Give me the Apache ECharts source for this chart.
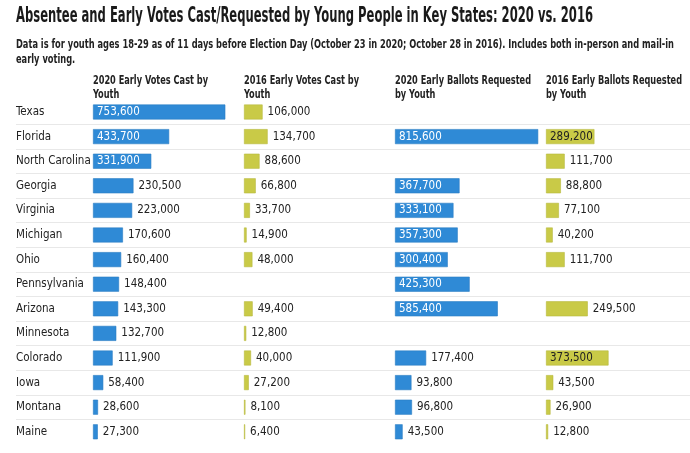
<!DOCTYPE html>
<html>
<head>
<meta charset="utf-8">
<script src="https://cdn.jsdelivr.net/npm/echarts@6/dist/echarts.min.js"></script>
<style>html,body{margin:0;padding:0;background:#fff}#c{width:690px;height:453px}</style>
</head>
<body>
<div id="c"></div>
<script>
const titleText = 'Absentee and Early Votes Cast/Requested by Young People in Key States: 2020 vs. 2016';
const subtitleLines = [
  'Data is for youth ages 18-29 as of 11 days before Election Day (October 23 in 2020; October 28 in 2016). Includes both in-person and mail-in',
  'early voting.'
];
const states = ['Texas','Florida','North Carolina','Georgia','Virginia','Michigan','Ohio','Pennsylvania','Arizona','Minnesota','Colorado','Iowa','Montana','Maine'];
const headers = [
  ['2020 Early Votes Cast by','Youth'],
  ['2016 Early Votes Cast by','Youth'],
  ['2020 Early Ballots Requested','by Youth'],
  ['2016 Early Ballots Requested','by Youth']
];
const votes2020 = [753600,433700,331900,230500,223000,170600,160400,148400,143300,132700,111900,58400,28600,27300];
const votes2016 = [106000,134700,88600,66800,33700,14900,48000,null,49400,12800,40000,27200,8100,6400];
const requested2020 = [null,815600,null,367700,333100,357300,300400,425300,585400,null,177400,93800,96800,43500];
const requested2016 = [null,289200,111700,88800,77100,40200,111700,null,249500,null,373500,43500,26900,12800];

const columns = [votes2020, votes2016, requested2020, requested2016];
const colColors = ['#2f8ad6','#c9ca47','#2f8ad6','#c9ca47'];
const colBorders = ['#2a7cc2','#b7b83e','#2a7cc2','#b7b83e'];
const insideText = ['#ffffff','#222222','#ffffff','#222222'];
const colLeft = [93, 244, 395, 546];
const colW = 151;
const xMax = 860000;
const rowH = 24.6;
const gridTop = 99.7;
const threshold = 260000;

const FONT = "'DejaVu Sans Condensed','Liberation Sans Narrow',sans-serif";
const ctx = document.createElement('canvas').getContext('2d');
function fitScale(text, font, target) {
  ctx.font = font;
  const w = ctx.measureText(text).width;
  return w > 0 ? target / w : 1;
}
const fmt = v => v.toLocaleString('en-US');

const titleFont = "bold 21px " + FONT;
const subFont = "bold 12px " + FONT;
const headFont = "bold 13px " + FONT;
const titleScale = fitScale(titleText, titleFont, 577);
const subScale = fitScale(subtitleLines[0], subFont, 658);
const headScale = fitScale(headers[3][0], headFont, 136);

const grids = [], xAxes = [], yAxes = [], series = [];
columns.forEach((vals, i) => {
  grids.push({left: colLeft[i], top: gridTop, width: colW, height: rowH * states.length});
  xAxes.push({type: 'value', gridIndex: i, min: 0, max: xMax, show: false});
  yAxes.push({
    type: 'category', gridIndex: i, data: states, inverse: true,
    axisLine: {show: false}, axisTick: {show: false}, splitLine: {show: false},
    axisLabel: i === 0 ? {show: true, align: 'left', margin: colLeft[0] - 16, color: '#222',
      fontSize: 11.5, fontFamily: FONT, overflow: 'none', width: 90} : {show: false}
  });
  series.push({
    type: 'bar', xAxisIndex: i, yAxisIndex: i, barWidth: 15, silent: true,
    itemStyle: {color: colColors[i], borderColor: colBorders[i], borderWidth: 0.6},
    data: vals.map(v => v == null ? null : {
      value: v,
      label: v > threshold
        ? {show: true, position: 'insideLeft', distance: 4, color: insideText[i]}
        : {show: true, position: 'right', distance: 5, color: '#222'}
    }),
    label: {show: true, fontSize: 11.5, fontFamily: FONT, formatter: p => fmt(p.value)}
  });
});
// separator grid
grids.push({left: 16, right: 0, top: gridTop + rowH, height: rowH * (states.length - 2)});
xAxes.push({type: 'value', gridIndex: 4, min: 0, max: 1, show: false});
yAxes.push({type: 'value', gridIndex: 4, min: 0, max: states.length - 2, interval: 1,
  axisLine: {show: false}, axisTick: {show: false}, axisLabel: {show: false},
  splitLine: {show: true, lineStyle: {color: '#e8e8e8', width: 1}}});

const graphics = [
  {type: 'text', x: 16, y: 17, scaleX: titleScale, originX: 0,
   style: {text: titleText, font: titleFont, fill: '#1a1a1a', textVerticalAlign: 'middle'}},
  {type: 'text', x: 16, y: 45, scaleX: subScale, originX: 0,
   style: {text: subtitleLines[0], font: subFont, fill: '#222', textVerticalAlign: 'middle'}},
  {type: 'text', x: 16, y: 60, scaleX: subScale, originX: 0,
   style: {text: subtitleLines[1], font: subFont, fill: '#222', textVerticalAlign: 'middle'}}
];
headers.forEach((h, i) => {
  h.forEach((line, j) => {
    graphics.push({type: 'text', x: colLeft[i], y: 81 + j * 13.5, scaleX: headScale, originX: 0,
      style: {text: line, font: headFont, fill: '#222', textVerticalAlign: 'middle'}});
  });
});

const chart = echarts.init(document.getElementById('c'), null, {renderer: 'canvas'});
chart.setOption({
  animation: false,
  grid: grids, xAxis: xAxes, yAxis: yAxes, series: series,
  graphic: graphics
});
</script>
</body>
</html>
